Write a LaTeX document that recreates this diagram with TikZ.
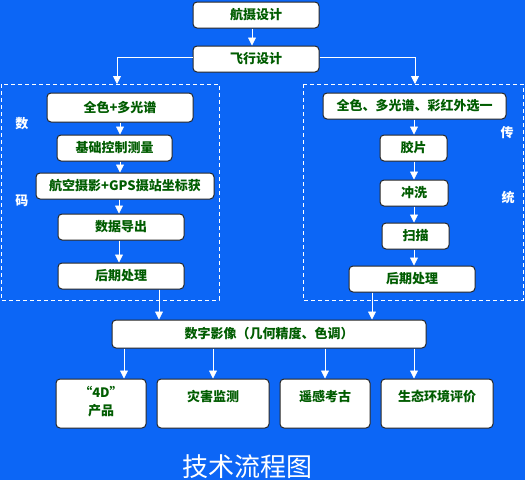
\documentclass[tikz,border=0pt]{standalone}
\usepackage{fontspec}
\newfontfamily\cjk{Noto Sans CJK SC}
\usetikzlibrary{arrows.meta}
\definecolor{bgblue}{RGB}{12,102,246}
\definecolor{txtgreen}{RGB}{0,92,0}
\tikzset{
  box/.style={draw=black!85,line width=1pt,fill=white,rounded corners=4pt,inner sep=0pt,
    font=\cjk\bfseries\fontsize{13}{15}\selectfont,text=txtgreen},
  lbl/.style={font=\cjk\bfseries\fontsize{13}{18}\selectfont,text=txtgreen,align=center,inner sep=0pt},
  side/.style={font=\cjk\bfseries\fontsize{13}{15}\selectfont,text=white,inner sep=0pt},
  arr/.style={white,line width=0.8pt,-{Triangle[width=8pt,length=8pt]}},
  region/.style={white,line width=0.8pt,dash pattern=on 4pt off 3pt}
}
\begin{document}
\begin{tikzpicture}[x=1pt,y=-1pt]
\fill[bgblue] (0,0) rectangle (525,480);
\useasboundingbox (0,0) rectangle (525,480);
% dashed regions
\draw[region] (1,84) rectangle (219,300);
\draw[region] (303,84) rectangle (523,300);
% top
\node[box,minimum width=126,minimum height=26] (hs) at (256,15) {航摄设计};
\node[box,minimum width=126,minimum height=26] (fx) at (256,59) {飞行设计};
% digital branch
\node[box,minimum width=146,minimum height=29] (d1) at (120,107.5) {全色+多光谱};
\node[box,minimum width=115,minimum height=26] (d2) at (114.5,148) {基础控制测量};
\node[box,minimum width=178,minimum height=26] (d3) at (125,186) {航空摄影+GPS摄站坐标获};
\node[box,minimum width=126,minimum height=26] (d4) at (121,227) {数据导出};
\node[box,minimum width=126,minimum height=26] (d5) at (121,276) {后期处理};
% traditional branch
\node[box,minimum width=183,minimum height=26] (t1) at (414.5,106) {全色、多光谱、彩红外选一};
\node[box,minimum width=67,minimum height=26] (t2) at (413.5,148) {胶片};
\node[box,minimum width=68,minimum height=26] (t3) at (414,193) {冲洗};
\node[box,minimum width=67,minimum height=26] (t4) at (415.5,236) {扫描};
\node[box,minimum width=126,minimum height=26] (t5) at (412,279) {后期处理};
% side labels
\node[side] (s1) at (22,124) {数};
\node[side] (s2) at (22,201) {码};
\node[side] (s3) at (507,133) {传};
\node[side] (s4) at (508,198) {统};
% merge
\node[box,minimum width=314,minimum height=28] (sz) at (269,334) {数字影像（几何精度、色调）};
% products
\node[box,minimum width=90,minimum height=49] (p1) at (101,403.5) {};
\node[box,minimum width=112,minimum height=49] (p2) at (213,403.5) {};
\node[box,minimum width=90,minimum height=49] (p3) at (325,403.5) {};
\node[box,minimum width=112,minimum height=49] (p4) at (437,403.5) {};
\node[lbl] (l1) at ([yshift=-23pt]p1.north) {“4D”\\产品};
\node[lbl] (l2) at ([yshift=-18pt]p2.north) {灾害监测};
\node[lbl] (l3) at ([yshift=-18pt]p3.north) {遥感考古};
\node[lbl] (l4) at ([yshift=-18pt]p4.north) {生态环境评价};
% title
\node[font=\cjk\fontsize{26}{28}\selectfont,text=white,inner sep=0pt] (tt) at (247,467) {技术流程图};
% arrows
\draw[arr] ([xshift=-4pt]hs.south) -- ([xshift=-4pt]fx.north);
\coordinate (lt) at (117,84);
\coordinate (rt) at (415,84);
\draw[arr] ([yshift=2pt]fx.west) -| (lt);
\draw[arr] ([yshift=2pt]fx.east) -| (rt);
\draw[arr] (d1.south) -- (d2.north -| d1.south);
\draw[arr] (d2.south -| 120,0) -- (d3.north -| 120,0);
\draw[arr] (d3.south -| 119,0) -- (d4.north -| 119,0);
\draw[arr] (d4.south -| 119,0) -- (d5.north -| 119,0);
\draw[arr] (t1.south -| 414,0) -- (t2.north -| 414,0);
\draw[arr] (t2.south -| 414,0) -- (t3.north -| 414,0);
\draw[arr] (t3.south -| 414,0) -- (t4.north -| 414,0);
\draw[arr] (t4.south -| 414,0) -- (t5.north -| 414,0);
\draw[arr] (d5.south -| 159,0) -- (sz.north -| 159,0);
\draw[arr] (t5.south -| 372,0) -- (sz.north -| 372,0);
\draw[arr] (sz.south -| 124,0) -- (p1.north -| 124,0);
\draw[arr] (sz.south -| 213,0) -- (p2.north -| 213,0);
\draw[arr] (sz.south -| 325,0) -- (p3.north -| 325,0);
\draw[arr] (sz.south -| 414,0) -- (p4.north -| 414,0);
\end{tikzpicture}
\end{document}
